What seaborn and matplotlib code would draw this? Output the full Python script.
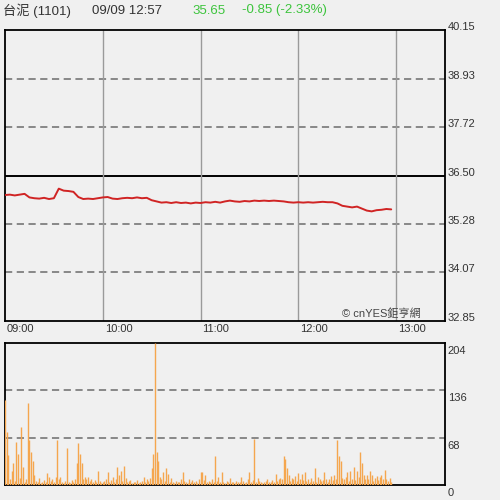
import matplotlib
matplotlib.use('Agg')
import numpy as np
import pandas as pd
import matplotlib.pyplot as plt
import seaborn as sns
from matplotlib.transforms import ScaledTranslation

# Header info
stock_name = '台泥 (1101)'
stamp = '09/09 12:57'
last_price = '35.65'
change_text = '-0.85 (-2.33%)'
watermark = '© cnYES鉅亨網'

# Time axis (minutes after 09:00)
time_ticks = [0, 60, 120, 180, 240]
time_labels = ['09:00', '10:00', '11:00', '12:00', '13:00']

# Price axis
price_ticks = [32.85, 34.07, 35.28, 36.50, 37.72, 38.93, 40.15]
prev_close = 36.50

# Price every 3 minutes
price_minutes = list(range(0, 238, 3))
price_values = [
    36.01, 36.02, 36.00, 36.02, 36.04, 35.95, 35.93, 35.92, 35.94, 35.91,
    35.93, 36.17, 36.12, 36.11, 36.09, 35.96, 35.91, 35.92, 35.91, 35.93,
    35.95, 35.96, 35.92, 35.91, 35.93, 35.94, 35.93, 35.95, 35.93, 35.94,
    35.88, 35.85, 35.82, 35.83, 35.81, 35.83, 35.81, 35.82, 35.80, 35.82,
    35.81, 35.83, 35.82, 35.84, 35.82, 35.85, 35.87, 35.85, 35.84, 35.86,
    35.85, 35.87, 35.86, 35.87, 35.86, 35.87, 35.86, 35.85, 35.83, 35.82,
    35.83, 35.82, 35.83, 35.82, 35.83, 35.84, 35.83, 35.83, 35.80, 35.74,
    35.72, 35.70, 35.72, 35.67, 35.62, 35.60, 35.63, 35.64, 35.66, 35.65,
]

# Volume per minute (09:00 - 12:57)
vol_ticks = [0, 68, 136, 204]
volume = [
    122, 76, 43, 8, 20, 31, 6, 62, 45, 10,
    83, 26, 5, 9, 118, 64, 48, 34, 15, 6,
    4, 10, 3, 5, 7, 4, 17, 12, 6, 9,
    5, 11, 64, 8, 12, 4, 3, 6, 53, 5,
    3, 7, 5, 8, 31, 61, 45, 31, 9, 12,
    8, 11, 6, 9, 4, 7, 5, 20, 6, 3,
    4, 6, 8, 19, 5, 7, 12, 4, 9, 26,
    14, 20, 6, 28, 10, 4, 6, 7, 3, 5,
    4, 7, 3, 5, 6, 12, 4, 8, 6, 10,
    24, 45, 204, 48, 34, 12, 8, 19, 6, 24,
    16, 5, 10, 4, 3, 6, 4, 5, 8, 19,
    6, 4, 3, 8, 5, 7, 4, 6, 3, 9,
    19, 19, 7, 14, 5, 6, 4, 8, 5, 41,
    6, 12, 4, 19, 5, 3, 6, 4, 10, 5,
    4, 3, 6, 5, 4, 12, 6, 3, 5, 8,
    19, 5, 7, 66, 4, 10, 6, 5, 3, 4,
    6, 8, 5, 4, 7, 5, 16, 6, 9, 10,
    8, 41, 38, 24, 14, 6, 10, 8, 13, 6,
    17, 9, 16, 7, 19, 6, 8, 5, 10, 6,
    24, 5, 11, 8, 6, 7, 19, 9, 5, 8,
    13, 7, 14, 8, 64, 41, 34, 10, 8, 12,
    19, 6, 20, 9, 26, 7, 20, 12, 48, 31,
    15, 9, 14, 8, 20, 14, 6, 10, 13, 7,
    12, 14, 9, 21, 8, 6, 10, 5,
]
vol_minutes = list(range(len(volume)))

bg = '#f0f0f0'
sns.set_theme(style='white', rc={'axes.facecolor': bg, 'figure.facecolor': bg})
plt.rcParams['font.family'] = ['Liberation Sans', 'Noto Sans CJK TC', 'DejaVu Sans']

fig = plt.figure(figsize=(5, 5), dpi=100)
ax1 = fig.add_axes([0.01, 0.358, 0.88, 0.582])
ax2 = fig.add_axes([0.01, 0.03, 0.88, 0.284])

# price panel
for t in price_ticks[1:-1]:
    if t == prev_close:
        ax1.axhline(t, color='black', lw=1.4, zorder=1)
    else:
        ax1.axhline(t, color='#808080', lw=1.3, ls=(0, (4, 2.5)), zorder=1)
for t in time_ticks[1:]:
    ax1.axvline(t, color='#9a9a9a', lw=1.0, zorder=1)

price_df = pd.DataFrame({'minute': price_minutes, 'price': price_values})
sns.lineplot(data=price_df, x='minute', y='price', ax=ax1, color='#d02424', lw=1.4, zorder=3)

ax1.set_xlim(0, 270)
ax1.set_ylim(price_ticks[0], price_ticks[-1])
ax1.yaxis.tick_right()
ax1.set_yticks(price_ticks)
ax1.set_yticklabels([f'{t:.2f}' for t in price_ticks])
ax1.set_xticks(time_ticks)
ax1.set_xticklabels(time_labels, ha='left')
ax1.set_xlabel('')
ax1.set_ylabel('')
ax1.tick_params(length=0, labelsize=8, colors='#333333', pad=2)
for lab in ax1.get_yticklabels():
    lab.set_transform(lab.get_transform() + ScaledTranslation(0, 0.04, fig.dpi_scale_trans))
for lab in ax1.get_xticklabels():
    lab.set_transform(lab.get_transform() + ScaledTranslation(0.02, 0, fig.dpi_scale_trans))

# volume panel
for t in vol_ticks[1:-1]:
    ax2.axhline(t, color='#808080', lw=1.3, ls=(0, (4, 2.5)), zorder=1)
ax2.vlines(vol_minutes, 0, volume, color='#f5a64e', lw=1.0, zorder=3)
ax2.set_xlim(0, 270)
ax2.set_ylim(vol_ticks[0], vol_ticks[-1])
ax2.yaxis.tick_right()
ax2.set_yticks(vol_ticks)
ax2.set_yticklabels([str(t) for t in vol_ticks])
ax2.set_xticks([])
ax2.tick_params(length=0, labelsize=8, colors='#333333', pad=2)
for lab in ax2.get_yticklabels():
    lab.set_transform(lab.get_transform() + ScaledTranslation(0, -0.07, fig.dpi_scale_trans))

for ax in (ax1, ax2):
    for s in ax.spines.values():
        s.set_visible(True)
        s.set_color('black')
        s.set_linewidth(1.3)

# header
fig.text(0.006, 0.979, stock_name, fontsize=9.5, color='#333333', va='center')
fig.text(0.184, 0.979, stamp, fontsize=9.5, color='#333333', va='center')
fig.text(0.384, 0.979, last_price, fontsize=9.5, color='#3cc43c', va='center')
fig.text(0.484, 0.979, change_text, fontsize=9.5, color='#3cc43c', va='center')
fig.text(0.684, 0.372, watermark, fontsize=8, color='#444444', va='center')

fig.savefig('out.png', dpi=100, facecolor=bg)
